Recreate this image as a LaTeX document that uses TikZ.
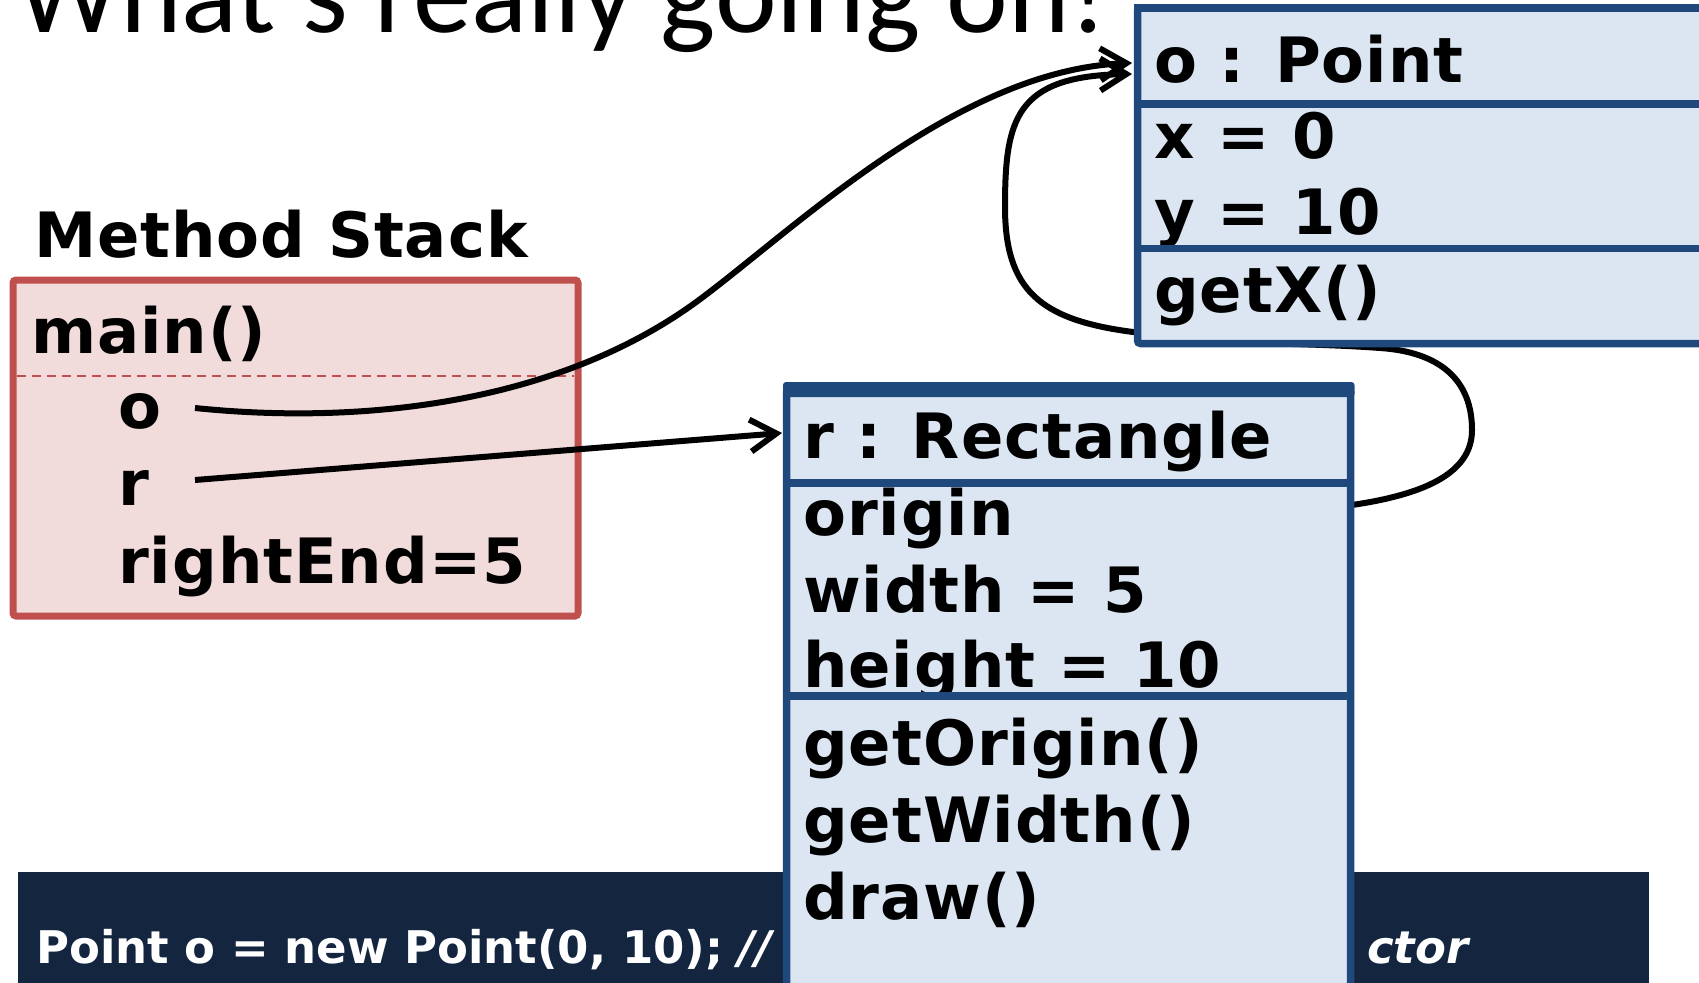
\documentclass[tikz,border=0pt]{standalone}
\usepackage{fontspec}
\setmainfont{DejaVu Sans}[LetterSpace=1.5]
\newfontfamily\codefont{DejaVu Sans}
\newfontfamily\titlefont{Carlito}
\usetikzlibrary{arrows.meta}
\definecolor{stackred}{HTML}{C0504D}
\definecolor{stackfill}{HTML}{F2DCDB}
\definecolor{objblue}{HTML}{1F497D}
\definecolor{objfill}{HTML}{DCE6F2}
\definecolor{barnavy}{HTML}{13253F}
\tikzset{
  lbl/.style={anchor=base west, inner sep=0pt, font=\fontsize{62.5}{70}\selectfont\bfseries},
  ttl/.style={anchor=base west, inner sep=0pt, font=\titlefont\fontsize{117}{130}\selectfont},
  codetxt/.style={anchor=base west, inner sep=0pt, text=white, font=\codefont\fontsize{45}{50}\selectfont\bfseries},
  conn/.style={line width=6pt, black},
  tipped/.style={-{Straight Barb[length=26pt,width=32pt]}},
  objline/.style={objblue, line width=7.5pt}
}
\begin{document}
\begin{tikzpicture}[x=1pt,y=-1pt]
\useasboundingbox (0,0) rectangle (1699,982);
\clip (0,0) rectangle (1699,982);

% title (cut at top)
\node[ttl] (title) at (16,33) {What’s really going on!};

% method stack
\node[lbl] (stacklbl) at (34,257) {Method Stack};
\draw[stackred, fill=stackfill, line width=7pt, rounded corners=3pt] (13,280) rectangle (578,616);
\draw[stackred, line width=1.5pt, dash pattern=on 9pt off 6pt] (17,376) -- (574,376);
\node[lbl] (mainlbl) at (31,353) {main()};
\node[lbl] (vo) at (118,428) {o};
\node[lbl] (vr) at (118,505) {r};
\node[lbl] (vre) at (118,583) {rightEnd=5};

% bottom code bar
\fill[barnavy] (18,872) rectangle (1649,995);
\node[codetxt] (code1) at (36,963) {Point o = new Point(0, 10); {\itshape //}};
\node[codetxt, font=\codefont\fontsize{45}{50}\selectfont\bfseries\itshape] (code2) at (1367,963) {ctor};

% connector end points
\coordinate (oRef) at (195,408);
\coordinate (rRef) at (195,480);
\coordinate (rectIn) at (782,433);
\coordinate (pointInA) at (1132,63);
\coordinate (pointInB) at (1132,74);
\coordinate (originRef) at (1352,505);

% connectors
\draw[conn, tipped] (oRef) .. controls (360,425) and (560,405) .. (703,297)
   .. controls (800,224) and (960,70) .. (pointInA);
\draw[conn, tipped] (rRef) -- (rectIn);
\draw[conn, tipped] (originRef) .. controls (1420,495) and (1472,475) .. (1472,430)
   .. controls (1472,380) and (1440,352) .. (1380,348)
   .. controls (1300,342) and (1200,345) .. (1133,332)
   .. controls (1040,320) and (1005,290) .. (1005,207)
   .. controls (1005,120) and (1015,76) .. (pointInB);

% Point object box
\fill[objfill] (1137.5,8) rectangle (1720,343.5);
\node[lbl] (ptitle) at (1154,82) {o : Point};
\node[lbl] (px) at (1154,158) {x = 0};
\node[lbl] (py) at (1154,234) {y = 10};
\fill[objfill] (1137.5,248.5) rectangle (1720,343.5);
\node[lbl] (pgetx) at (1154,312) {getX()};
\draw[objline] (1137.5,104) -- (1720,104);
\draw[objline] (1137.5,248.5) -- (1720,248.5);
\draw[objline, rounded corners=3pt] (1720,343.5) -- (1137.5,343.5) -- (1137.5,8) -- (1720,8);
\fill[objblue] (1134,4) rectangle (1720,12);

% Rectangle object box
\fill[objfill] (786.5,389) rectangle (1350.5,1000);
\node[lbl] (rtitle) at (803,458) {r : Rectangle};
\node[lbl] (rorig) at (803,535) {origin};
\node[lbl] (rwid) at (803,612) {width = 5};
\node[lbl] (rhei) at (803,687) {height = 10};
\fill[objfill] (786.5,695.5) rectangle (1350.5,1000);
\node[lbl] (rgo) at (803,765) {getOrigin()};
\node[lbl] (rgw) at (803,842) {getWidth()};
\node[lbl] (rdraw) at (803,919) {draw()};
\draw[objblue, line width=8pt] (786.5,482.5) -- (1350.5,482.5);
\draw[objblue, line width=8pt] (786.5,695.5) -- (1350.5,695.5);
\draw[objline, rounded corners=3pt] (786.5,1000) -- (786.5,389.5) -- (1350.5,389.5) -- (1350.5,1000);
\fill[objblue, rounded corners=3pt] (783,382) rectangle (1354.5,397);
\end{tikzpicture}
\end{document}
